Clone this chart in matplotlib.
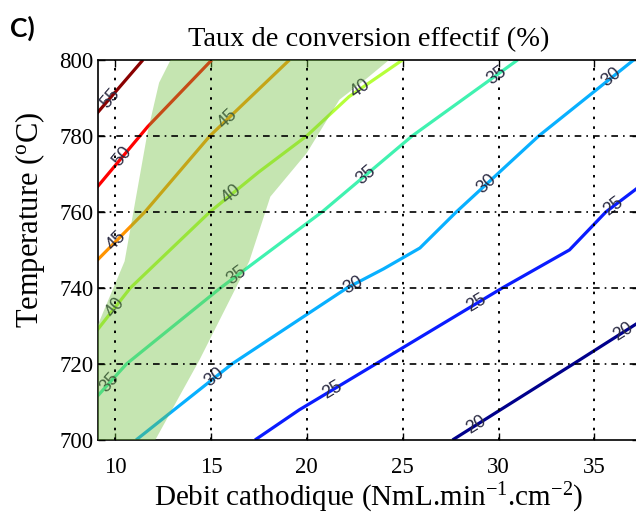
import numpy as np
import matplotlib
matplotlib.use('Agg')
import matplotlib.pyplot as plt
from matplotlib.patches import Polygon

# contour levels and their polylines (debit, temperature)
levels = [55, 50, 45, 40, 35, 30, 25, 20]
line_colors = ['#8a0000', '#ff0000', '#ff9400', '#b6ff3a', '#40f2b0', '#08b0ff', '#0a1cff', '#00008c']

x55 = [8.9, 11.46]
t55 = [785.0, 800]
x50 = [8.9, 11.7, 15.05]
t50 = [765.5, 782.4, 800]
x45 = [8.9, 11.56, 14.95, 19.1]
t45 = [746.4, 760, 780, 800]
x40 = [8.9, 10.8, 14.95, 17.5, 20.0, 22.2, 25.0]
t40 = [727.8, 740, 760, 770.5, 780, 790.3, 800]
x35 = [8.9, 10.6, 15.5, 20.8, 25.5, 31.0]
t35 = [710.5, 720, 740, 760, 780, 800]
x30 = [11.1, 16.1, 22.1, 24.0, 25.9, 27.8, 32.1, 37.3]
t30 = [700, 720, 740, 745, 750.5, 760, 780, 801]
x25 = [17.3, 19.6, 23.6, 30.2, 33.7, 35.6, 37.3]
t25 = [700, 707.9, 720, 740, 750, 760, 766.5]
x20 = [27.6, 33.9, 37.3]
t20 = [700, 720, 730.9]

lines_x = [x55, x50, x45, x40, x35, x30, x25, x20]
lines_t = [t55, t50, t45, t40, t35, t30, t25, t20]

# where the contour labels sit (level, debit)
label_level = [55, 50, 45, 45, 40, 40, 40, 35, 35, 35, 35, 30, 30, 30, 30, 25, 25, 25, 20, 20]
label_x = [9.74, 10.4, 10.1, 15.9, 10.0, 16.1, 22.8, 9.74, 16.35, 23.1, 29.9,
           15.2, 22.4, 29.4, 35.9, 21.35, 28.85, 36.0, 28.85, 36.5]

# green zone outline
zone_x = [8.5, 12.1, 14.4, 17.0, 18.1, 20.0, 21.7, 23.1, 24.3, 12.9, 12.3, 11.7, 10.5, 8.5]
zone_t = [700, 700, 721, 747, 764, 775.5, 789.5, 795.0, 800, 800, 794, 781, 747, 723]

plt.rcParams['font.family'] = 'Liberation Serif'
plt.rcParams['mathtext.fontset'] = 'custom'
plt.rcParams['mathtext.rm'] = 'Liberation Serif'
plt.rcParams['mathtext.default'] = 'regular'

fig = plt.figure(figsize=(6.36, 5.25), dpi=100)
ax = fig.add_axes([0.154, 0.162, 0.85, 0.724])
ax.set_xlim(9.11, 37.3)
ax.set_ylim(700, 800)

for lx, lt, c in zip(lines_x, lines_t, line_colors):
    ax.plot(lx, lt, color=c, lw=2.3, zorder=2, solid_capstyle='butt')

# contour labels rotated along the line
for lev, x0 in zip(label_level, label_x):
    i = levels.index(lev)
    lx = np.array(lines_x[i])
    lt = np.array(lines_t[i])
    t0 = np.interp(x0, lx, lt)
    k = min(max(np.searchsorted(lx, x0), 1), len(lx) - 1)
    p1 = ax.transData.transform((lx[k - 1], lt[k - 1]))
    p2 = ax.transData.transform((lx[k], lt[k]))
    ang = np.degrees(np.arctan2(p2[1] - p1[1], p2[0] - p1[0]))
    ax.text(x0, t0, str(lev), rotation=ang, rotation_mode='anchor',
            ha='center', va='center', fontsize=13, color='#2c2c44',
            family='Liberation Sans', zorder=3)

zone = Polygon(list(zip(zone_x, zone_t)), closed=True, facecolor='#6fbf3c',
               edgecolor='none', alpha=0.4, zorder=4)
ax.add_patch(zone)

# grid: dotted verticals, dash-dot horizontals
for xv in [10, 15, 20, 25, 30, 35]:
    ax.axvline(xv, color='black', lw=1.4, ls=(0, (1.3, 3.7)), zorder=5)
for yv in [720, 740, 760, 780]:
    ax.axhline(yv, color='black', lw=1.2, ls=(0, (4, 3, 1, 3)), zorder=5)

ax.set_xticks([10, 15, 20, 25, 30, 35])
ax.set_yticks([700, 720, 740, 760, 780, 800])
ax.tick_params(direction='in', top=True, right=True, labelsize=16.5, length=5, width=1)
ax.tick_params(axis='x', pad=12)
ax.tick_params(axis='y', pad=3)
for s in ax.spines.values():
    s.set_linewidth(1.2)

ax.set_title('Taux de conversion effectif (%)', fontsize=20.5, pad=10)
ax.set_xlabel('Debit cathodique (NmL.min$^{-1}$.cm$^{-2}$)', fontsize=21, labelpad=2)
ax.set_ylabel('Temperature ($^{o}$C)', fontsize=22)
ax.yaxis.set_label_coords(-0.095, 0.58)

fig.text(0.016, 0.946, 'C)', fontsize=19, fontweight='bold', family='Lato', va='center')

fig.savefig('out.png', dpi=100)
